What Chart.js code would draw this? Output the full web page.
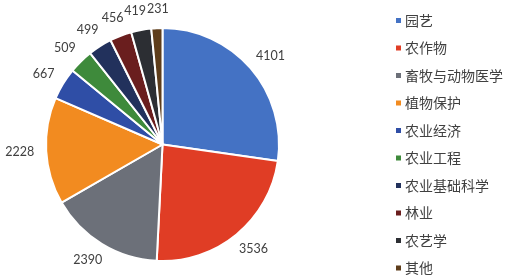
<!DOCTYPE html>
<html>
<head>
<meta charset="utf-8">
<script src="https://cdn.jsdelivr.net/npm/chart.js@4"></script>
<style>
  html, body { margin: 0; padding: 0; background: #ffffff; }
  #chart { display: block; }
</style>
</head>
<body>
<canvas id="chart" width="512" height="279"></canvas>
<script>
// categories and counts
const categories = ['园艺', '农作物', '畜牧与动物医学', '植物保护', '农业经济', '农业工程', '农业基础科学', '林业', '农艺学', '其他'];
const counts = [4101, 3536, 2390, 2228, 667, 509, 499, 456, 419, 231];
const sliceColors = ['#4472C4', '#E03D25', '#6C7079', '#F28B20', '#2F4EA6', '#3E8A3B', '#22315C', '#6A1E1E', '#2C2E33', '#5E3D1B'];

// value labels outside each slice
const outsideLabels = {
    id: 'outsideLabels',
    afterDatasetsDraw(chart) {
        const ctx = chart.ctx;
        const meta = chart.getDatasetMeta(0);
        ctx.save();
        ctx.font = '12.5px Lato';
        ctx.fillStyle = '#404040';
        ctx.textAlign = 'center';
        ctx.textBaseline = 'middle';
        const boxes = meta.data.map((arc, i) => {
            const mid = (arc.startAngle + arc.endAngle) / 2;
            const dx = Math.cos(mid);
            const dy = Math.sin(mid);
            const text = String(chart.data.datasets[0].data[i]);
            const w = ctx.measureText(text).width;
            const h = 14;
            const r = arc.outerRadius + 12;
            return { text, w, h, x: arc.x + dx * r + dx * w / 2, y: arc.y + dy * r + dy * h / 2 };
        });
        // push apart neighbours that overlap sideways (like the small top slices)
        for (let i = 1; i < boxes.length; i++) {
            const a = boxes[i - 1], b = boxes[i];
            const overlapX = (a.w + b.w) / 2 + 1 - Math.abs(b.x - a.x);
            const overlapY = (a.h + b.h) / 2 - 4 - Math.abs(b.y - a.y);
            if (overlapX > 0 && overlapY > 0) {
                const s = Math.sign(b.x - a.x) || 1;
                a.x -= s * overlapX / 2;
                b.x += s * overlapX / 2;
            }
        }
        boxes.forEach(b => ctx.fillText(b.text, b.x, b.y));
        ctx.restore();
    }
};

// legend on the right
const sideLegend = {
    id: 'sideLegend',
    afterDraw(chart) {
        const ctx = chart.ctx;
        const colors = chart.data.datasets[0].backgroundColor;
        ctx.save();
        ctx.font = '14px "Noto Sans CJK SC"';
        ctx.textBaseline = 'middle';
        ctx.textAlign = 'left';
        chart.data.labels.forEach((label, i) => {
            const y = 20.5 + i * 27.5;
            ctx.fillStyle = colors[i];
            ctx.fillRect(396, y - 2.5, 5, 5);
            ctx.fillStyle = '#404040';
            ctx.fillText(label, 405, y);
        });
        ctx.restore();
    }
};

new Chart(document.getElementById('chart'), {
    type: 'pie',
    data: {
        labels: categories,
        datasets: [{
            data: counts,
            backgroundColor: sliceColors,
            borderColor: '#ffffff',
            borderWidth: 2
        }]
    },
    options: {
        responsive: false,
        animation: false,
        layout: {
            padding: { left: 45, right: 232, top: 27, bottom: 17 }
        },
        plugins: {
            legend: { display: false },
            tooltip: { enabled: false }
        }
    },
    plugins: [outsideLabels, sideLegend]
});
</script>
</body>
</html>
